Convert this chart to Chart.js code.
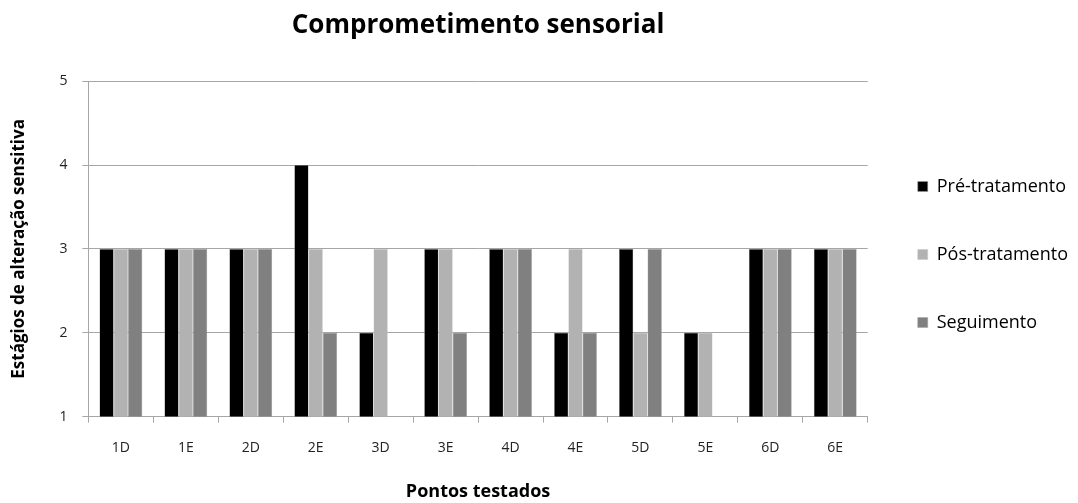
<!DOCTYPE html>
<html>
<head>
<meta charset="utf-8">
<script src="https://cdn.jsdelivr.net/npm/chart.js@4/dist/chart.umd.min.js"></script>
<style>
  html, body { margin: 0; padding: 0; background: #fff; }
  #wrap { width: 1078px; height: 503px; }
</style>
</head>
<body>
<div id="wrap"><canvas id="c" width="1078" height="503"></canvas></div>
<script>
// Sensory impairment stages per tested point
const pontos = ['1D', '1E', '2D', '2E', '3D', '3E', '4D', '4E', '5D', '5E', '6D', '6E'];
const preTratamento = [3, 3, 3, 4, 2, 3, 3, 2, 3, 2, 3, 3];
const posTratamento = [3, 3, 3, 3, 3, 3, 3, 3, 2, 2, 3, 3];
const seguimento    = [3, 3, 3, 2, null, 2, 3, 2, 3, null, 3, 3];
const estagios = [1, 2, 3, 4, 5];

const FONT = '"Open Sans", "Liberation Sans", sans-serif';
const gridColor = '#a6a6a6';

new Chart(document.getElementById('c'), {
  type: 'bar',
  data: {
    labels: pontos,
    datasets: [
      { label: 'Pré-tratamento', data: preTratamento, backgroundColor: '#000000', borderColor: '#9a9a9a', borderWidth: 0.5 },
      { label: 'Pós-tratamento', data: posTratamento, backgroundColor: '#b2b2b2', borderColor: '#c8c8c8', borderWidth: 0.5 },
      { label: 'Seguimento', data: seguimento, backgroundColor: '#808080', borderColor: '#a0a0a0', borderWidth: 0.5 }
    ]
  },
  options: {
    responsive: false,
    animation: false,
    devicePixelRatio: 1,
    layout: { padding: { top: 6, left: 9, right: 0, bottom: 0 } },
    datasets: { bar: { categoryPercentage: 0.66, barPercentage: 1.0 } },
    scales: {
      x: {
        grid: { display: true, drawOnChartArea: false, drawTicks: true, tickLength: 6, color: gridColor, offset: true },
        border: { display: true, color: gridColor },
        ticks: { color: '#222', font: { family: FONT, size: 14 }, padding: 17 },
        title: { display: true, text: 'Pontos testados', color: '#000', font: { family: FONT, size: 18, weight: 'bold' }, padding: { top: 8, bottom: 0 } }
      },
      y: {
        min: 1, max: 5,
        afterBuildTicks: (axis) => { axis.ticks = estagios.map(v => ({ value: v })); },
        grid: { color: gridColor, drawTicks: true, tickLength: 6 },
        border: { display: true, color: gridColor },
        ticks: { color: '#222', font: { family: FONT, size: 14 }, padding: 15 },
        title: { display: true, text: 'Estágios de alteração sensitiva', color: '#000', font: { family: FONT, size: 17, weight: 'bold' }, padding: { top: 0, bottom: 15 } }
      }
    },
    plugins: {
      title: {
        display: true, fullSize: false,
        text: 'Comprometimento sensorial', color: '#000',
        font: { family: FONT, size: 26, weight: 'bold' },
        padding: { top: 4, bottom: 40 }
      },
      legend: {
        position: 'right', align: 'center',
        labels: {
          color: '#000', boxWidth: 10, boxHeight: 10, padding: 50,
          font: { family: FONT, size: 18 }
        }
      },
      tooltip: { enabled: false }
    }
  }
});
</script>
</body>
</html>
